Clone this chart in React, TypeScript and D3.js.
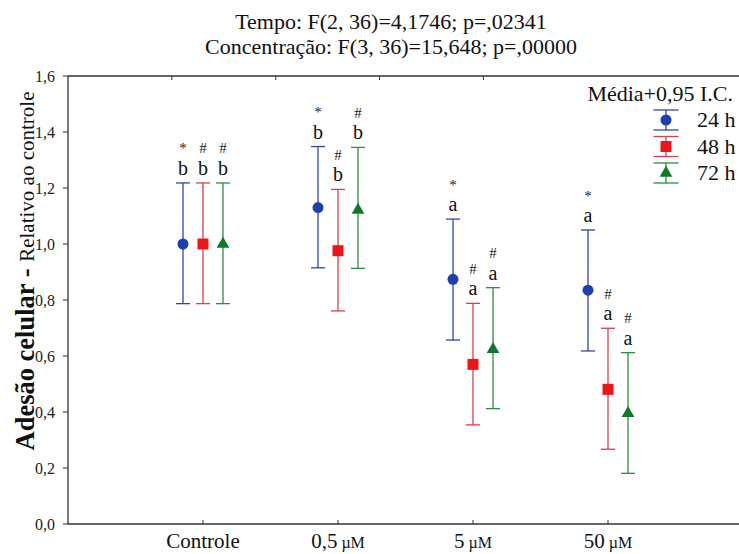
import React from "react";
import * as d3 from "d3";

// Categories (concentrations) and time series
const categories = ["Controle", "0,5", "5", "50"];
const categoryUnits = ["", "µM", "µM", "µM"];
const seriesNames = ["24 h", "48 h", "72 h"];

// Means and 95% confidence limits per series, one value per category
const mean24 = [1.0, 1.13, 0.874, 0.835];
const low24 = [0.787, 0.915, 0.657, 0.618];
const high24 = [1.218, 1.348, 1.089, 1.05];

const mean48 = [1.0, 0.976, 0.57, 0.481];
const low48 = [0.787, 0.761, 0.354, 0.267];
const high48 = [1.218, 1.195, 0.788, 0.699];

const mean72 = [1.0, 1.121, 0.624, 0.395];
const low72 = [0.787, 0.913, 0.412, 0.181];
const high72 = [1.218, 1.345, 0.844, 0.612];

// Significance letters per category, and marks per series
const groupLetters = ["b", "b", "a", "a"];
const seriesMarks = ["*", "#", "#"];

const yTicks = [0, 0.2, 0.4, 0.6, 0.8, 1.0, 1.2, 1.4, 1.6];
const titleLines = [
  "Tempo: F(2, 36)=4,1746; p=,02341",
  "Concentração: F(3, 36)=15,648; p=,00000",
];

const lineColors = ["#3344a8", "#d8404e", "#2f8c3c"];
const markColors = ["#1f3fb0", "#ee1418", "#0c7a28"];

const W = 739;
const H = 554;
const left = 68;
const right = 743;
const top = 76;
const bottom = 524;
const serif = { fontFamily: '"Liberation Serif", "Times New Roman", serif' };

function Marker({ kind, x, y, color }: { kind: number; x: number; y: number; color: string }) {
  if (kind === 0) return <circle cx={x} cy={y} r={5.5} fill={color} />;
  if (kind === 1) return <rect x={x - 5.5} y={y - 5.5} width={11} height={11} fill={color} />;
  const sym = d3.symbol().type(d3.symbolTriangle).size(70)();
  return <path d={sym || ""} transform={`translate(${x},${y})`} fill={color} />;
}

export default function App() {
  const x = d3.scalePoint<string>().domain(categories).range([left, right]).padding(1);
  const y = d3.scaleLinear().domain([0, 1.6]).range([bottom, top]);
  const offset = d3.scalePoint<number>().domain([0, 1, 2]).range([-20, 20]);
  const topAxis = d3.scaleLinear().domain([0, 6.5]).range([left, right]);

  const series = [
    { mean: mean24, low: low24, high: high24 },
    { mean: mean48, low: low48, high: high48 },
    { mean: mean72, low: low72, high: high72 },
  ];

  const capHalf = 7;

  return (
    <svg
      width={W}
      height={H}
      style={{ position: "absolute", left: 0, top: 0, background: "#fff", ...serif }}
    >
      <rect x={0} y={0} width={W} height={H} fill="#fff" />

      {/* Titles */}
      {titleLines.map((t, i) => (
        <text key={i} x={391} y={29 + i * 25} fontSize={22} textAnchor="middle" fill="#111" style={serif}>
          {t}
        </text>
      ))}

      {/* Frame */}
      <line x1={left} x2={right} y1={top} y2={top} stroke="#333" strokeWidth={1.3} />
      <line x1={left} x2={right} y1={bottom} y2={bottom} stroke="#333" strokeWidth={1.3} />
      <line x1={left} x2={left} y1={top} y2={bottom} stroke="#333" strokeWidth={1.3} />

      {/* Top inner ticks */}
      {[1, 2, 3, 4].map((k) => (
        <line key={k} x1={topAxis(k)} x2={topAxis(k)} y1={top} y2={top + 4} stroke="#333" />
      ))}

      {/* Y axis */}
      {yTicks.map((t) => (
        <g key={t}>
          <line x1={left - 5} x2={left} y1={y(t)} y2={y(t)} stroke="#333" />
          <text x={left - 13} y={y(t) + 5.5} fontSize={16} textAnchor="end" fill="#222" style={serif}>
            {t.toFixed(1).replace(".", ",")}
          </text>
        </g>
      ))}

      {/* X axis */}
      {categories.map((c, i) => (
        <g key={c}>
          <line x1={x(c)!} x2={x(c)!} y1={bottom} y2={bottom - 4} stroke="#333" />
          <text x={x(c)!} y={548} fontSize={21} textAnchor="middle" fill="#111" style={serif}>
            {c}
            {categoryUnits[i] ? <tspan fontSize={16}>{" " + categoryUnits[i]}</tspan> : null}
          </text>
        </g>
      ))}

      {/* Y axis title */}
      <text
        transform={`translate(34,271) rotate(-90)`}
        textAnchor="middle"
        fill="#111"
        style={serif}
      >
        <tspan fontSize={26.5} fontWeight="bold">Adesão celular</tspan>
        <tspan fontSize={26.5} fontWeight="bold">{" - "}</tspan>
        <tspan fontSize={21}>Relativo ao controle</tspan>
      </text>

      {/* Error bars, markers and annotations */}
      {series.map((s, si) =>
        categories.map((c, ci) => {
          const cx = x(c)! + offset(si)!;
          const yh = y(s.high[ci]);
          const yl = y(s.low[ci]);
          return (
            <g key={`${si}-${ci}`}>
              <line x1={cx} x2={cx} y1={yh} y2={yl} stroke={lineColors[si]} strokeWidth={1.3} />
              <line x1={cx - capHalf} x2={cx + capHalf} y1={yh} y2={yh} stroke={lineColors[si]} strokeWidth={1.3} />
              <line x1={cx - capHalf} x2={cx + capHalf} y1={yl} y2={yl} stroke={lineColors[si]} strokeWidth={1.3} />
              <Marker kind={si} x={cx} y={y(s.mean[ci])} color={markColors[si]} />
              <text x={cx} y={yh - 8} fontSize={20} textAnchor="middle" fill="#111" style={serif}>
                {groupLetters[ci]}
              </text>
              <text x={cx} y={yh - 29.5} fontSize={15} textAnchor="middle" fill="#222" style={serif}>
                {seriesMarks[si]}
              </text>
            </g>
          );
        })
      )}

      {/* Legend */}
      <text x={733} y={101} fontSize={22} textAnchor="end" fill="#111" style={serif}>
        Média+0,95 I.C.
      </text>
      {seriesNames.map((n, i) => {
        const ly = 120 + i * 26.5;
        const lx = 666;
        return (
          <g key={n}>
            <line x1={lx} x2={lx} y1={ly - 10} y2={ly + 10} stroke={lineColors[i]} strokeWidth={1.3} />
            <line x1={lx - 12.5} x2={lx + 12.5} y1={ly - 10} y2={ly - 10} stroke={lineColors[i]} strokeWidth={1.3} />
            <line x1={lx - 12.5} x2={lx + 12.5} y1={ly + 10} y2={ly + 10} stroke={lineColors[i]} strokeWidth={1.3} />
            <Marker kind={i} x={lx} y={ly} color={markColors[i]} />
            <text x={697} y={ly + 7} fontSize={22} fill="#111" style={serif}>
              {n}
            </text>
          </g>
        );
      })}
    </svg>
  );
}
